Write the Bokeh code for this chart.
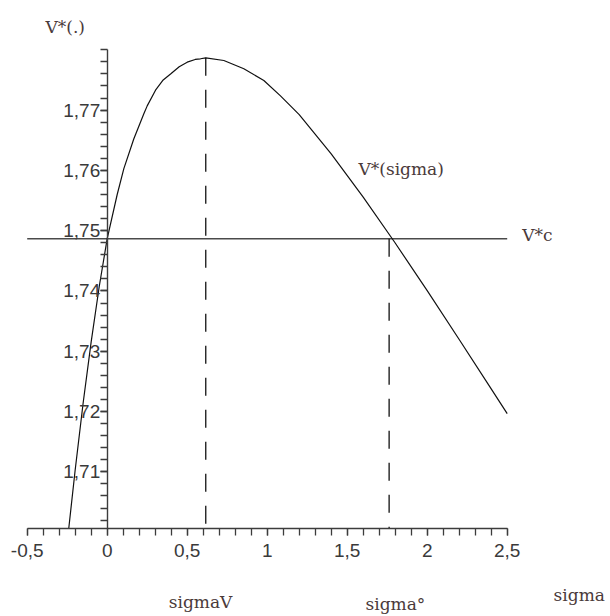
from bokeh.plotting import figure
from bokeh.models import Range1d, LinearAxis, FixedTicker
from bokeh.core.properties import value
from bokeh.embed import file_html
from bokeh.resources import INLINE
import numpy as np

# ---- data ----
sigma = [-0.24, -0.2, -0.15, -0.1, -0.05, 0.0,
         0.0625, 0.104, 0.166, 0.229, 0.25, 0.302, 0.35, 0.396, 0.45, 0.5, 0.55, 0.583, 0.616, 0.729,
         0.854, 0.979, 1.083, 1.2, 1.4, 1.6, 1.8, 2.0, 2.2, 2.4, 2.5]
v_star = [1.70068, 1.71035, 1.72150, 1.73160, 1.74070, 1.74868,
          1.7560, 1.7603, 1.7652, 1.7694, 1.7707, 1.7733, 1.7750, 1.7760, 1.7772, 1.77795, 1.7784,
          1.77851, 1.77867, 1.77823,
          1.77685, 1.77491, 1.77235, 1.76925, 1.76275, 1.75555, 1.74795, 1.74005, 1.73195, 1.72375, 1.71965]

v_c = 1.74868          # horizontal level V*c
sigma_v = 0.616        # argmax
v_max = 1.77867
sigma_deg = 1.762      # second crossing

x_ticks = [-0.5, 0.0, 0.5, 1.0, 1.5, 2.0, 2.5]
x_tick_labels = ["-0,5", "0", "0,5", "1", "1,5", "2", "2,5"]
y_ticks = [1.71, 1.72, 1.73, 1.74, 1.75, 1.76, 1.77]
y_tick_labels = ["1,71", "1,72", "1,73", "1,74", "1,75", "1,76", "1,77"]

x_min, x_max = -0.5, 2.5
y_axis_bottom, y_axis_top = 1.7006, 1.78

labels_text = ["V*(.)", "V*(sigma)", "V*c", "sigmaV", "sigma°", "sigma"]
labels_x = [-0.3856, 1.5706, 2.594, 0.385, 1.6144, 2.790]
labels_y = [1.78386, 1.76026, 1.7492, 1.68838, 1.68800, 1.68965]

# ---- figure ----
W, H = 610, 616
px_x = 160.0
px_y = 6029.0
xr0 = -0.5 - 26.7 / px_x
yr1 = 1.78 + 49.3 / px_y

p = figure(width=W, height=H,
           x_range=Range1d(xr0, xr0 + W / px_x),
           y_range=Range1d(yr1 - H / px_y, yr1),
           output_backend="svg", toolbar_location=None,
           x_axis_location=None, y_axis_location=None,
           min_border=0, title=None)
p.outline_line_color = None
p.grid.visible = False
p.background_fill_color = "white"

x_minor = [round(v, 1) for v in np.arange(-5, 26) / 10.0]
y_minor = [round(1.70 + 0.002 * k, 3) for k in range(1, 41)]

xaxis = LinearAxis(fixed_location=y_axis_bottom, bounds=(x_min, x_max),
                   ticker=FixedTicker(ticks=x_ticks, minor_ticks=x_minor),
                   major_label_overrides=dict(zip(x_ticks, x_tick_labels)))
yaxis = LinearAxis(fixed_location=0.0, bounds=(y_axis_bottom, y_axis_top),
                   ticker=FixedTicker(ticks=y_ticks, minor_ticks=y_minor),
                   major_label_overrides=dict(zip(y_ticks, y_tick_labels)))
for ax in (xaxis, yaxis):
    ax.axis_line_color = "#3c3c3c"
    ax.axis_line_width = 1.4
    ax.major_tick_line_color = "#3c3c3c"
    ax.minor_tick_line_color = "#3c3c3c"
    ax.major_tick_line_width = 1.3
    ax.minor_tick_line_width = 1.3
    ax.major_tick_in = 0
    ax.major_tick_out = 7
    ax.minor_tick_in = 0
    ax.minor_tick_out = 7
    ax.major_label_text_font = "Liberation Sans"
    ax.major_label_text_font_size = "19px"
    ax.major_label_text_color = "#3a3a3a"
xaxis.major_label_standoff = 8
yaxis.major_label_standoff = 0
p.add_layout(xaxis, "below")
p.add_layout(yaxis, "left")

# horizontal V*c line
p.line(x=[x_min, x_max], y=[v_c, v_c], line_color="#4a4a4a", line_width=1.5)
# dashed verticals
p.line(x=[sigma_v, sigma_v], y=[v_max, y_axis_bottom], line_color="#111111",
       line_width=1.3, line_dash="18 14")
p.line(x=[sigma_deg, sigma_deg], y=[v_c, y_axis_bottom], line_color="#111111",
       line_width=1.3, line_dash="18 14")
# curve
p.line(x=sigma, y=v_star, line_color="#111111", line_width=1.2)

p.text(x=labels_x, y=labels_y, text=labels_text,
       text_font=value("DejaVu Serif"), text_font_size="17px",
       text_color="#4a3a3a", text_align="left", text_baseline="alphabetic")

open("out.html", "w").write(file_html(p, INLINE))
